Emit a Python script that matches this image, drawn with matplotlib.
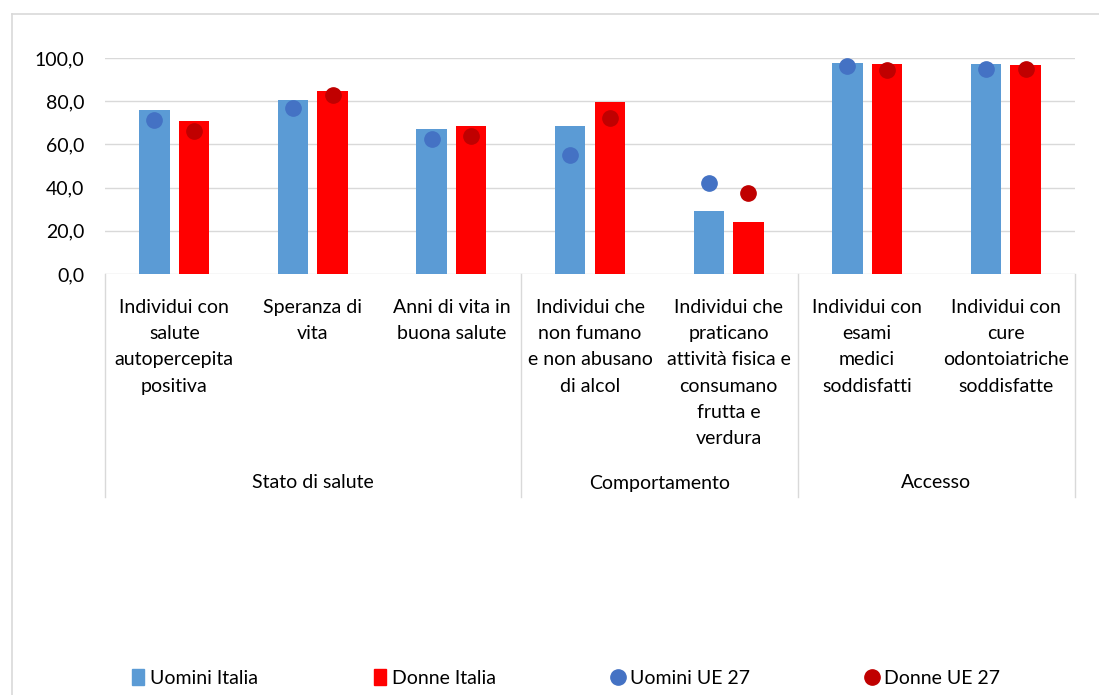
import numpy as np
import matplotlib
matplotlib.use('Agg')
import matplotlib.pyplot as plt
from matplotlib.lines import Line2D
from matplotlib.patches import Patch
from matplotlib.ticker import FuncFormatter
from matplotlib import transforms

# Data
categories = [
    "Individui con\nsalute\nautopercepita\npositiva",
    "Speranza di\nvita",
    "Anni di vita in\nbuona salute",
    "Individui che\nnon fumano\ne non abusano\ndi alcol",
    "Individui che\npraticano\nattività fisica e\nconsumano\nfrutta e\nverdura",
    "Individui con\nesami\nmedici\nsoddisfatti",
    "Individui con\ncure\nodontoiatriche\nsoddisfatte",
]
groups = ["Stato di salute", "Comportamento", "Accesso"]
group_sizes = [3, 2, 2]

uomini_italia = [75.8, 80.5, 67.2, 68.4, 29.2, 97.7, 97.2]
donne_italia = [70.7, 84.5, 68.4, 79.8, 24.0, 97.2, 96.6]
uomini_ue27 = [71.2, 76.9, 62.5, 55.2, 42.0, 96.2, 94.9]
donne_ue27 = [66.0, 82.8, 63.7, 72.4, 37.4, 94.3, 94.9]

C_UOM_IT = '#5B9BD5'
C_DON_IT = '#FF0000'
C_UOM_UE = '#4472C4'
C_DON_UE = '#C00000'
GRID = '#D9D9D9'
FS = 14

plt.rcParams['font.family'] = ['Lato', 'DejaVu Sans']

W, H = 1099, 695
fig = plt.figure(figsize=(W / 100, H / 100), dpi=100)

# axes box in pixels: x 105..1075, y 58..274
ax = fig.add_axes([105 / W, 1 - 274 / H, 970 / W, 216 / H])

x = np.arange(len(categories)) + 0.5
off = 0.143
bw = 0.22

ax.bar(x - off, uomini_italia, bw, color=C_UOM_IT, zorder=2)
ax.bar(x + off, donne_italia, bw, color=C_DON_IT, zorder=2)
ax.plot(x - off, uomini_ue27, 'o', ms=11, color=C_UOM_UE, zorder=3, clip_on=False)
ax.plot(x + off, donne_ue27, 'o', ms=11, color=C_DON_UE, zorder=3, clip_on=False)

ax.set_xlim(0, len(categories))
ax.set_ylim(0, 100)
ax.set_yticks(np.arange(0, 101, 20))
ax.yaxis.set_major_formatter(FuncFormatter(lambda v, p: f"{v:.1f}".replace('.', ',')))
ax.tick_params(axis='y', length=0, pad=15, labelsize=FS)
ax.set_xticks([])
ax.grid(axis='y', color=GRID, lw=1.0, zorder=0)
for s in ax.spines.values():
    s.set_visible(False)

# category labels
for xi, lab in zip(x, categories):
    ax.annotate(lab, xy=(xi, 0), xycoords=('data', 'axes fraction'),
                xytext=(0, -18), textcoords='offset points',
                ha='center', va='top', fontsize=FS, linespacing=1.66)

# group labels and separators
trans = transforms.blended_transform_factory(ax.transData, ax.transAxes)
bottom = -(497 - 274) / 216
edges = np.concatenate([[0], np.cumsum(group_sizes)])
for e in edges:
    ax.plot([e, e], [0, bottom], color=GRID, lw=1.0, transform=trans, clip_on=False)
for g, a, b in zip(groups, edges[:-1], edges[1:]):
    ax.annotate(g, xy=((a + b) / 2, 0), xycoords=('data', 'axes fraction'),
                xytext=(0, -(483 - 274) * 0.72), textcoords='offset points',
                ha='center', va='center', fontsize=FS)

# outer chart border (left and top only visible)
fig.add_artist(Line2D([12 / W, 12 / W], [0, 1 - 14 / H], color=GRID, lw=1.2))
fig.add_artist(Line2D([12 / W, 1], [1 - 14 / H, 1 - 14 / H], color=GRID, lw=1.2))

handles = [
    Patch(color=C_UOM_IT, label='Uomini Italia'),
    Patch(color=C_DON_IT, label='Donne Italia'),
    Line2D([], [], marker='o', ls='none', ms=11, color=C_UOM_UE, label='Uomini UE 27'),
    Line2D([], [], marker='o', ls='none', ms=11, color=C_DON_UE, label='Donne UE 27'),
]
fig.legend(handles=handles, loc='center', bbox_to_anchor=(566 / W, 1 - 678 / H),
           ncol=4, frameon=False, fontsize=FS, handlelength=0.6, handleheight=0.9,
           handletextpad=0.3, columnspacing=6.0)

fig.savefig('out.png', dpi=100)
